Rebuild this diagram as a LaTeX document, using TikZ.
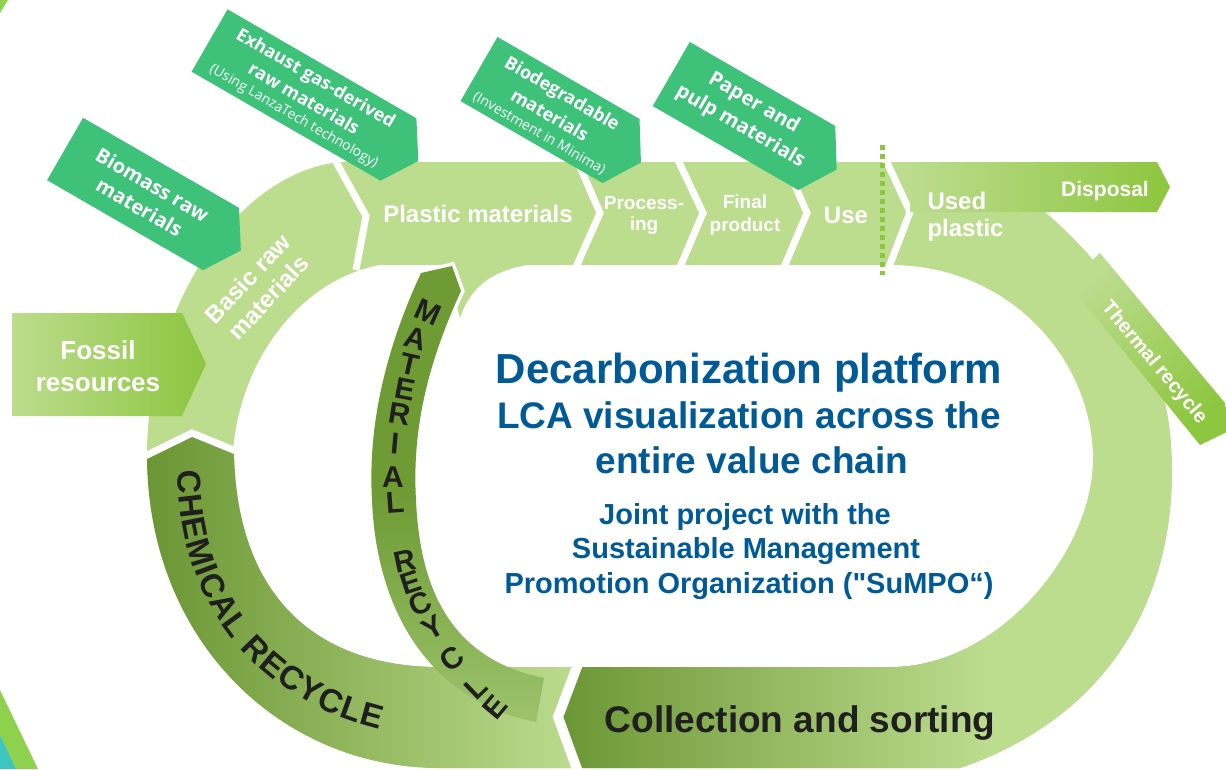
\documentclass[tikz,border=0pt]{standalone}
\usepackage{fontspec}
\setmainfont{Liberation Sans}[Ligatures=TeXOff]
\newfontfamily\tagfont{Open Sans}
\usetikzlibrary{decorations.text}
\definecolor{leaflight}{HTML}{BCDC8E}
\definecolor{leafbright}{HTML}{8DC63F}
\definecolor{leafdark}{HTML}{6B9634}
\definecolor{leafmat}{HTML}{6E9B34}
\definecolor{leafmatlow}{HTML}{9CC36C}
\definecolor{tagleaf}{HTML}{3EC27A}
\definecolor{titleblue}{HTML}{005A96}
\definecolor{inkblack}{HTML}{1F1F1F}
\definecolor{edgegreen}{HTML}{8ED14C}
\definecolor{edgeteal}{HTML}{3CC6BE}
\pgfdeclarehorizontalshading{sortfade}{100bp}{color(0bp)=(leafdark); color(25bp)=(leafdark); color(60bp)=(leaflight); color(100bp)=(leaflight)}
\newcommand\tagnote[1]{{\tagfont\mdseries\fontsize{14}{16}\selectfont #1}}

\begin{document}
\begin{tikzpicture}[x=1pt, y=-1pt,
    chevcut/.style={white, line width=7pt, line join=miter},
    steplabel/.style={text=white, font=\bfseries\fontsize{24}{28}\selectfont, align=center},
    tagbox/.style={fill=tagleaf},
    tagtext/.style={text=white, font=\tagfont\bfseries\fontsize{20}{26}\selectfont, align=center, rotate=-30},
    headline/.style={text=titleblue, font=\bfseries\fontsize{37}{44}\selectfont, anchor=base},
    subline/.style={text=titleblue, font=\bfseries\fontsize{29}{34}\selectfont, anchor=base},
    mrletter/.style={text=inkblack, font=\bfseries\fontsize{30}{30}\selectfont, inner sep=0pt},
    dotline/.style={draw=leafbright, line width=5pt, dash pattern=on 5pt off 4pt}]
    \useasboundingbox (0,0) rectangle (1226,769);
    % bits of the neighbouring slide
    \fill[edgegreen] (0,0) -- (8,0) -- (0,13) -- cycle;
    \fill[edgegreen] (0,690) -- (38,769) -- (16,769) -- (0,735) -- cycle;
    \fill[edgeteal] (0,735) -- (16,769) -- (0,769) -- cycle;
    % the loop
    \fill[leaflight] (340,162) -- (1045,162) -- (1045,212) .. controls (1130,285) and (1172,370) .. (1172,470)
      .. controls (1172,610) and (1100,720) .. (960,768) -- (440,768) .. controls (280,768) and (147,640) .. (147,450)
      .. controls (150,300) and (240,172) .. (340,162) -- cycle;
    \fill[white] (380,265) -- (890,265) .. controls (1010,265) and (1093,360) .. (1093,460)
      .. controls (1093,550) and (1000,667) .. (890,667) -- (440,667) .. controls (320,667) and (235,600) .. (233,452)
      .. controls (240,360) and (300,280) .. (380,265) -- cycle;
    \fill[leaflight] (445,263) -- (548,263) .. controls (500,265) and (472,282) .. (460,318) -- cycle;
    \shade[left color=leafdark, right color=leaflight] (147,455) -- (192,433) -- (234,450)
      .. controls (236,600) and (320,667) .. (440,667) -- (578,667) -- (558,717) -- (578,768) -- (440,768)
      .. controls (280,768) and (147,640) .. (147,455) -- cycle;
    \shade[shading=sortfade] (558,717) -- (578,667) -- (890,667) .. controls (1000,667) and (1093,550) .. (1093,460)
      -- (1172,470) .. controls (1172,610) and (1100,720) .. (960,768) -- (578,768) -- cycle;
    % separators
    \draw[chevcut] (335,160) -- (366,216) -- (356,270);
    \draw[chevcut] (577,160) -- (600,213) -- (576,267);
    \draw[chevcut] (678,160) -- (703,213) -- (680,267);
    \draw[chevcut] (784,160) -- (807,213) -- (784,267);
    \draw[chevcut] (886,160) -- (910,212) -- (889,267);
    \draw[chevcut] (145,456) -- (192,433) -- (236,451);
    \draw[chevcut, line width=10pt] (578,664) -- (558,717) -- (578,772);
    % outgoing arrows
    \shade[left color=leaflight, right color=leafbright] (910,162) -- (1157,162) -- (1170,187) -- (1157,212) -- (910,212) -- cycle;
    \shade[top color=leafbright, bottom color=leaflight, shading angle=-140] (1100,253) -- (1225,403) -- (1227,432)
      -- (1200,445) -- (1068,283) -- cycle;
    \shade[left color=leaflight, right color=leafbright] (12,313) -- (182,313) -- (206,364) -- (182,416) -- (12,416) -- cycle;
    % raw material tags
    \fill[tagbox, shift={(143,194)}, rotate=-30] (-90,-36) -- (90,-36) -- (113,0) -- (90,36) -- (-90,36) -- cycle;
    \fill[tagbox, shift={(304,95)}, rotate=-30] (-109,-36) -- (109,-36) -- (132,0) -- (109,36) -- (-109,36) -- cycle;
    \fill[tagbox, shift={(550,110)}, rotate=-30] (-82,-37) -- (82,-37) -- (105,0) -- (82,37) -- (-82,37) -- cycle;
    \fill[tagbox, shift={(744,116)}, rotate=-30] (-84,-37) -- (84,-37) -- (107,0) -- (84,37) -- (-84,37) -- cycle;
    \draw[dotline] (882,145) -- (882,275);
    % material recycle band
    \begin{scope}
      \clip (300,150) rectangle (620,600);
      \draw[white, line width=7pt] (421,273) .. controls (383,355) and (368,430) .. (372,500)
        .. controls (376,605) and (425,700) .. (536,722) -- (544,678) .. controls (455,660) and (420,595) .. (416,500)
        .. controls (412,430) and (427,365) .. (461,291) -- (452,266) -- cycle;
    \end{scope}
    \shade[top color=leafmat, bottom color=leafmatlow, middle color=leafmat] (421,273) .. controls (383,355) and (368,430) .. (372,500)
      .. controls (376,605) and (425,700) .. (536,722) -- (544,678) .. controls (455,660) and (420,595) .. (416,500)
      .. controls (412,430) and (427,365) .. (461,291) -- (452,266) -- cycle;
    \node[mrletter, rotate=-24] (m1) at (428,312) {M};
    \node[mrletter, rotate=-16] (m2) at (416,339) {A};
    \node[mrletter, rotate=-13] (m3) at (410,364) {T};
    \node[mrletter, rotate=-11] (m4) at (405,389) {E};
    \node[mrletter, rotate=-9] (m5) at (400,414) {R};
    \node[mrletter, rotate=-5] (m6) at (395,444) {I};
    \node[mrletter, rotate=0] (m7) at (393,477) {A};
    \node[mrletter, rotate=4] (m8) at (395,503) {L};
    \node[mrletter, rotate=12] (r1) at (405,561) {R};
    \node[mrletter, rotate=18] (r2) at (411,583) {E};
    \node[mrletter, rotate=24] (r3) at (420,604) {C};
    \node[mrletter, rotate=30] (r4) at (433,628) {Y};
    \node[mrletter, rotate=37] (r5) at (452,659) {C};
    \node[mrletter, rotate=44] (r6) at (476,688) {L};
    \node[mrletter, rotate=50] (r7) at (495,707) {E};
    \path[decorate, decoration={text along path, raise=-12pt,
      text={|\color{inkblack}\bfseries\fontsize{33}{33}\selectfont|CHEMICAL RECYCLE}}]
      (190,470) .. controls (190,620) and (290,725) .. (470,728);
    % labels
    \node[tagtext] (biomass) at (146,196) {Biomass raw\\materials};
    \node[tagtext, font=\tagfont\bfseries\fontsize{18}{24}\selectfont] (exhaust) at (305,97) {Exhaust gas-derived\\raw materials\\[-6pt]\tagnote{(Using LanzaTech technology)}};
    \node[tagtext, font=\tagfont\bfseries\fontsize{18}{25}\selectfont] (biodeg) at (551,113) {Biodegradable\\materials\\[-6pt]\tagnote{(Investment in Minima)}};
    \node[tagtext, font=\tagfont\bfseries\fontsize{20}{27}\selectfont] (paper) at (747,115) {Paper and\\pulp materials};
    \node[steplabel, font=\bfseries\fontsize{26}{32}\selectfont] (fossil) at (98,366) {Fossil\\resources};
    \node[steplabel, rotate=47] (basic) at (258,288) {Basic raw\\materials};
    \node[steplabel] (plastic) at (478,214) {Plastic materials};
    \node[steplabel, font=\bfseries\fontsize{19}{21}\selectfont] (process) at (644,215) {Process-\\ing};
    \node[steplabel, font=\bfseries\fontsize{19}{23}\selectfont] (final) at (745,215) {Final\\product};
    \node[steplabel] (use) at (846,215) {Use};
    \node[steplabel, align=left, anchor=west, font=\bfseries\fontsize{24}{27}\selectfont] (used) at (924,217) {Used\\plastic};
    \node[steplabel, font=\bfseries\fontsize{21}{24}\selectfont] (disposal) at (1105,191) {Disposal};
    \node[steplabel, rotate=-50, font=\bfseries\fontsize{20}{24}\selectfont] (thermal) at (1154,363) {Thermal recycle};
    \node[anchor=base, text=inkblack, font=\bfseries\fontsize{37}{40}\selectfont] (sorting) at (800,732) {Collection and sorting};
    \node[headline, font=\bfseries\fontsize{42}{48}\selectfont] (platform) at (749,383) {Decarbonization platform};
    \node[headline] (lca) at (749,428) {LCA visualization across the};
    \node[headline] (chain) at (752,473) {entire value chain};
    \node[subline] (joint) at (745,524) {Joint project with the};
    \node[subline] (sustain) at (746,558) {Sustainable Management};
    \node[subline] (sumpo) at (749,593) {Promotion Organization ("SuMPO“)};
\end{tikzpicture}
\end{document}
